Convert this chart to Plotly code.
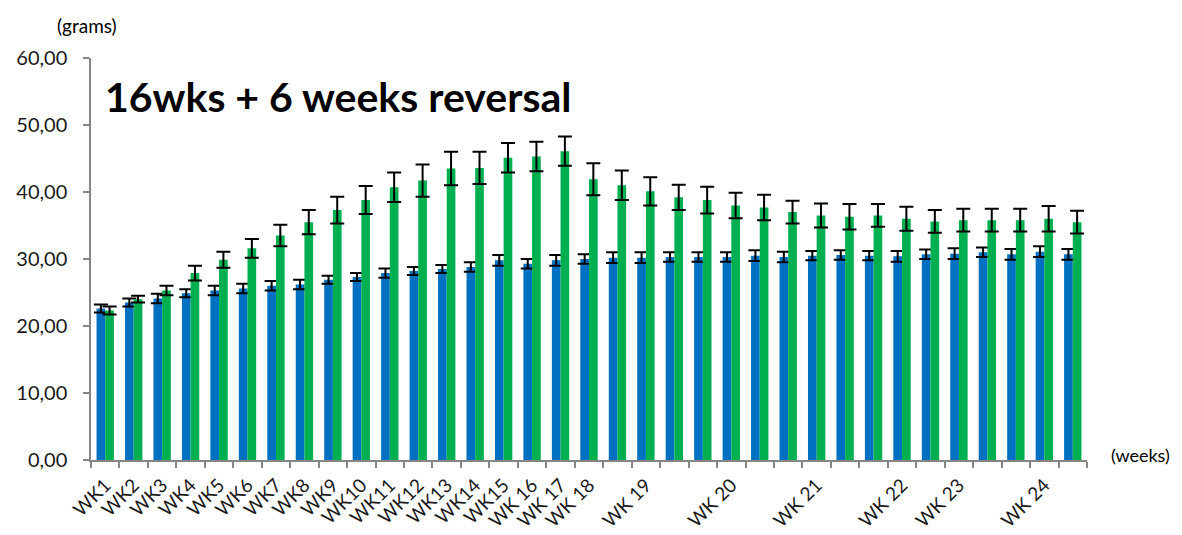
import plotly.graph_objects as go

# measurement index (35 weighings) and their axis labels
measure_ids = list(range(1, 36))
week_labels = ["WK1", "WK2", "WK3", "WK4", "WK5", "WK6", "WK7", "WK8", "WK9", "WK10",
               "WK11", "WK12", "WK13", "WK14", "WK15", "WK 16", "WK 17", "WK 18", "",
               "WK 19", "", "", "WK 20", "", "", "WK 21", "", "", "WK 22", "",
               "WK 23", "", "", "WK 24", ""]

blue_vals = [22.6, 23.5, 24.1, 24.9, 25.3, 25.6, 26.0, 26.2, 26.9, 27.3,
             27.9, 28.2, 28.5, 28.8, 29.8, 29.3, 29.8, 30.0, 30.2, 30.2,
             30.3, 30.3, 30.3, 30.5, 30.3, 30.5, 30.6, 30.5, 30.4, 30.7,
             30.8, 31.0, 30.7, 31.1, 30.7]
blue_err = [0.6, 0.6, 0.7, 0.6, 0.7, 0.7, 0.7, 0.7, 0.6, 0.6,
            0.7, 0.6, 0.6, 0.7, 0.8, 0.7, 0.8, 0.7, 0.8, 0.8,
            0.7, 0.7, 0.7, 0.8, 0.8, 0.7, 0.7, 0.7, 0.8, 0.7,
            0.8, 0.7, 0.8, 0.8, 0.8]

green_vals = [22.3, 24.0, 25.3, 27.9, 29.9, 31.6, 33.5, 35.5, 37.3, 38.8,
              40.7, 41.7, 43.5, 43.6, 45.1, 45.3, 46.1, 41.9, 41.0, 40.1,
              39.2, 38.8, 38.0, 37.7, 37.0, 36.5, 36.3, 36.5, 36.0, 35.6,
              35.8, 35.8, 35.8, 36.0, 35.5]
green_err = [0.6, 0.5, 0.7, 1.1, 1.2, 1.4, 1.6, 1.8, 2.0, 2.1,
             2.2, 2.4, 2.5, 2.4, 2.2, 2.2, 2.2, 2.4, 2.2, 2.1,
             1.9, 2.0, 1.9, 1.9, 1.7, 1.8, 1.9, 1.7, 1.8, 1.7,
             1.7, 1.7, 1.7, 1.9, 1.7]

FONT = "Lato, 'Open Sans', sans-serif"
err_style = dict(type="data", visible=True, color="#000000", thickness=2, width=7)

fig = go.Figure()
fig.add_trace(go.Bar(x=measure_ids, y=blue_vals, name="control",
                     marker=dict(color="#0070C0", line=dict(width=0)),
                     error_y=dict(array=blue_err, **err_style)))
fig.add_trace(go.Bar(x=measure_ids, y=green_vals, name="diet",
                     marker=dict(color="#00B050", line=dict(width=0)),
                     error_y=dict(array=green_err, **err_style)))

# the page body adds an 8px offset, so the figure is 8px smaller and margins shifted
fig.update_layout(
    width=1174, height=527,
    margin=dict(l=83, r=95, t=50, b=75, pad=0, autoexpand=False),
    paper_bgcolor="white", plot_bgcolor="white",
    barmode="group", bargap=0.39, bargroupgap=0,
    showlegend=False,
    separators=",.",
    font=dict(family=FONT, size=19, color="#1a1a1a"),
    xaxis=dict(type="category", tickmode="array", tickvals=measure_ids, ticktext=week_labels,
               tickson="boundaries", ticks="outside", ticklen=6, tickwidth=1.5, tickcolor="#868686",
               showline=True, linecolor="#868686", linewidth=1.5, showgrid=False,
               tickangle=-45, ticklabelstandoff=5, automargin=False,
               tickfont=dict(family=FONT, size=19, color="#1a1a1a"),
               range=[-0.5, 34.5], fixedrange=True),
    yaxis=dict(range=[0, 60], tickmode="linear", tick0=0, dtick=10, tickformat=".2f",
               ticks="outside", ticklen=6, tickwidth=1.5, tickcolor="#868686",
               showline=True, linecolor="#868686", linewidth=1.5, showgrid=False, zeroline=False,
               ticklabelstandoff=12, automargin=False,
               tickfont=dict(family=FONT, size=20, color="#1a1a1a"), fixedrange=True),
)

fig.add_annotation(text="<b>16wks + 6 weeks reversal</b>", xref="paper", yref="paper",
                   x=0.012, y=0.905, xanchor="left", yanchor="middle", showarrow=False,
                   font=dict(family=FONT, size=41, color="#000000"))
fig.add_annotation(text="(grams)", xref="paper", yref="paper",
                   x=-0.036, y=1.08, xanchor="left", yanchor="middle", showarrow=False,
                   font=dict(family=FONT, size=19, color="#000000"))
fig.add_annotation(text="(weeks)", xref="paper", yref="paper",
                   x=1.022, y=0.012, xanchor="left", yanchor="middle", showarrow=False,
                   font=dict(family=FONT, size=18, color="#000000"))

fig.write_html("out.html")
